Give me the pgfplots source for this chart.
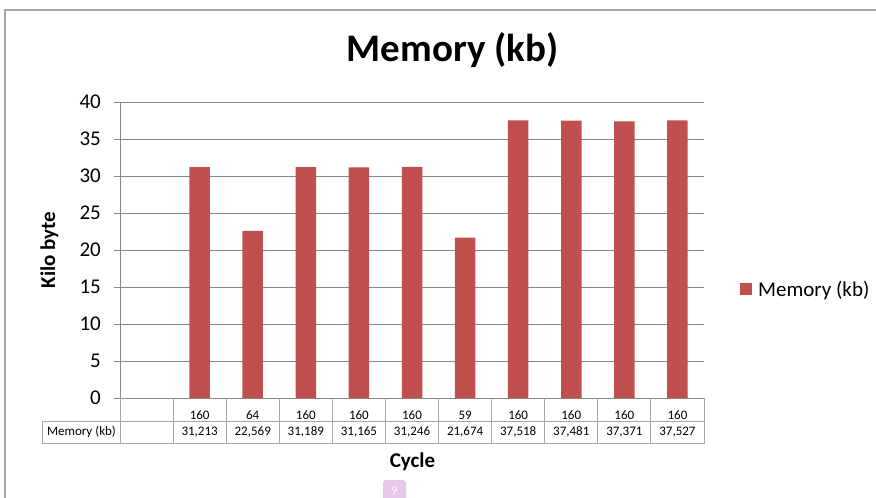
\documentclass[border=0pt]{standalone}
\usepackage{fontspec}
\setmainfont{Carlito}
\usepackage{pgfplots}
\pgfplotsset{compat=1.18}
\definecolor{barred}{HTML}{C0504D}
\definecolor{gridgray}{HTML}{888888}
\definecolor{tabgray}{HTML}{A6A6A6}
\definecolor{framegray}{HTML}{A6A6A6}
\definecolor{pagepink}{HTML}{E6C8E8}
\newcommand{\fsz}[1]{\fontsize{#1}{#1}\selectfont}
\begin{document}
\begin{tikzpicture}[x=1bp,y=1bp]
\path[use as bounding box] (0,0) rectangle (876,-498);
\clip (0,0) rectangle (876,-498);
\draw[framegray, line width=1.3bp] (5,-510) -- (5,-10) -- (880,-10);
\node[font=\bfseries\fsz{39bp}, anchor=base] at (452.5,-62) {Memory (kb)};
\node[font=\bfseries\fsz{21bp}, anchor=base, rotate=90] at (55,-250) {Kilo byte};
\node[font=\bfseries\fsz{21bp}, anchor=base] at (412.5,-467) {Cycle};
\fill[pagepink, rounded corners=3bp] (383,-510) rectangle (406,-480);
\node[white, font=\fsz{12bp}, inner sep=0pt] at (394.5,-490.5) {9};
\begin{axis}[
  at={(120bp,-398bp)}, anchor=south west, scale only axis,
  width=584bp, height=296bp,
  xmin=0, xmax=11, ymin=0, ymax=40,
  ytick={0,5,...,40},
  ymajorgrids, grid style={gridgray, line width=1bp},
  axis lines*=left, axis line style={gridgray, line width=1bp},
  xtick={0.5,1.5,...,10.5},
  xticklabels={,160,64,160,160,160,59,160,160,160,160},
  xtick style={draw=none},
  ytick style={gridgray, line width=1bp},
  tick align=outside, major tick length=6bp,
  yticklabel style={font=\fsz{21bp}, inner sep=0pt, anchor=east, xshift=-13bp},
  xticklabel style={font=\fsz{13bp}, anchor=center, yshift=-11.5bp},
  /pgf/number format/assume math mode=true,
  clip=false,
  legend style={at={(1.0616,0.368)}, anchor=west, draw=none, fill=none,
    inner sep=0pt, font=\fsz{21bp}},
  legend cell align=left,
]
\addplot[ybar, bar width=20.5bp, fill=barred, draw=none, bar shift=0pt,
  legend image code/.code={\fill[barred] (0bp,-6bp) rectangle (12bp,6bp); \path (16bp,0bp);}]
  coordinates {(1.5,31.213) (2.5,22.569) (3.5,31.189) (4.5,31.165) (5.5,31.246)
               (6.5,21.674) (7.5,37.518) (8.5,37.481) (9.5,37.371) (10.5,37.527)};
\addlegendentry{Memory (kb)}
\end{axis}
% data table grid
\foreach \k in {0,...,11} {
  \draw[tabgray, line width=1bp] (120+53.0909*\k,-398) -- ++(0,-45);
}
\draw[tabgray, line width=1bp] (120,-421) -- (704,-421);
\draw[tabgray, line width=1bp] (42,-421) rectangle (704,-443);
\node[font=\fsz{13bp}] at (81.5,-432) {Memory (kb)};
\foreach \v [count=\i] in {{31,213},{22,569},{31,189},{31,165},{31,246},{21,674},{37,518},{37,481},{37,371},{37,527}} {
  \node[font=\fsz{13bp}] at (120+53.0909*\i+26.545,-432) {\v};
}
\end{tikzpicture}
\end{document}
